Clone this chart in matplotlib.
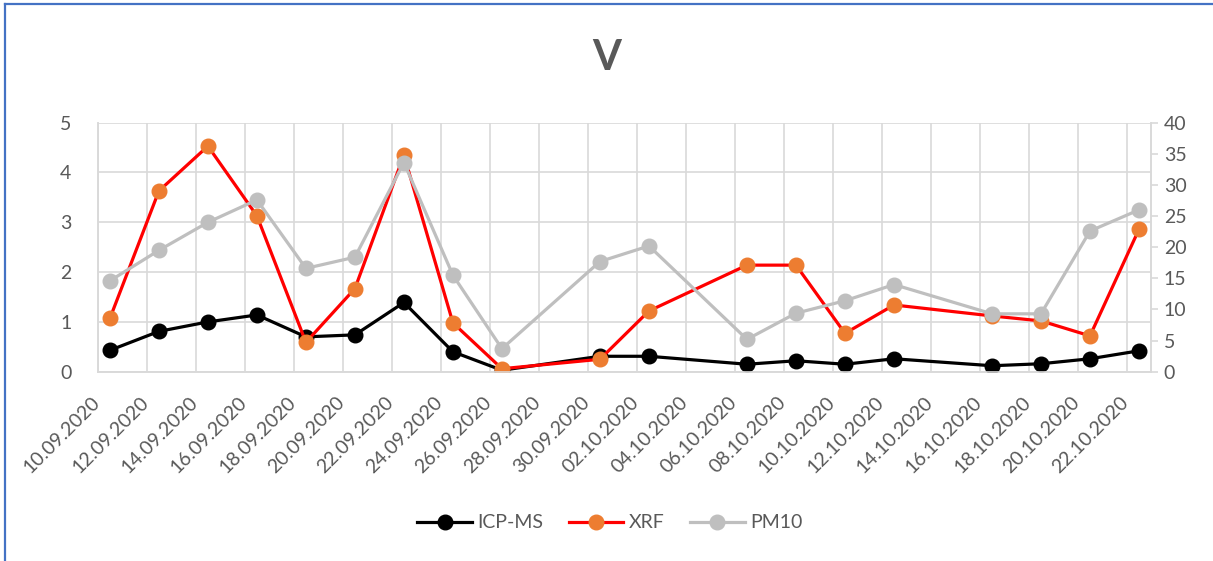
import numpy as np
import pandas as pd
import matplotlib
matplotlib.use('Agg')
import matplotlib.pyplot as plt
import matplotlib.dates as mdates
import matplotlib.transforms as mtransforms
from matplotlib.lines import Line2D

plt.rcParams['font.family'] = ['Lato', 'DejaVu Sans']

# sampling dates (dd.mm.yyyy)
dates = ['10.09.2020', '12.09.2020', '14.09.2020', '16.09.2020', '18.09.2020',
         '20.09.2020', '22.09.2020', '24.09.2020', '26.09.2020', '30.09.2020',
         '02.10.2020', '06.10.2020', '08.10.2020', '10.10.2020', '12.10.2020',
         '16.10.2020', '18.10.2020', '20.10.2020', '22.10.2020']

icp_ms = [0.43, 0.81, 1.00, 1.14, 0.70, 0.74, 1.39, 0.40, 0.03, 0.31,
          0.31, 0.15, 0.22, 0.15, 0.26, 0.12, 0.16, 0.26, 0.42]
xrf = [1.07, 3.63, 4.53, 3.13, 0.59, 1.67, 4.35, 0.98, 0.06, 0.25,
       1.22, 2.14, 2.14, 0.77, 1.34, 1.12, 1.02, 0.72, 2.86]
pm10 = [14.6, 19.5, 24.0, 27.6, 16.6, 18.4, 33.6, 15.5, 3.7, 17.7,
        20.2, 5.2, 9.4, 11.4, 14.0, 9.3, 9.3, 22.6, 26.0]

TXT = '#595959'
GRID = '#D9D9D9'

x = mdates.date2num(pd.to_datetime(dates, format='%d.%m.%Y'))
start, end = x[0], x[-1]

fig = plt.figure(figsize=(12.13, 5.61), dpi=100)
ax = fig.add_axes([0.0805, 0.3374, 0.9491 - 0.0805, 0.7813 - 0.3374])
ax2 = ax.twinx()

ax.plot(x, icp_ms, color='black', lw=2.3, marker='o', ms=10.5, zorder=3)
ax.plot(x, xrf, color='#FF0000', lw=2.3, marker='o', ms=10.5,
        markerfacecolor='#ED7D31', markeredgecolor='#ED7D31', zorder=4)
ax2.plot(x, pm10, color='#BFBFBF', lw=2.3, marker='o', ms=10.5, zorder=3)

ax.set_xlim(start - 0.5, end + 0.5)
ax.set_ylim(0, 5)
ax2.set_ylim(0, 40)
ax.set_yticks(np.arange(0, 6, 1))
ax2.set_yticks(np.arange(0, 45, 5))

ticks = np.arange(start, end + 1, 2)
ax.set_xticks(ticks)
ax.set_xticklabels([mdates.num2date(t).strftime('%d.%m.%Y') for t in ticks])
ax.set_xticks(np.arange(start - 0.5, end + 1, 2), minor=True)
ax.grid(False)
ax.grid(True, which='minor', axis='x', color=GRID, lw=1.2)
ax.grid(True, which='major', axis='y', color=GRID, lw=1.2)
ax.set_axisbelow(True)

ax.tick_params(axis='x', which='both', length=0, pad=20, labelsize=14, labelcolor=TXT)
ax.tick_params(axis='y', length=0, pad=19, labelsize=14, labelcolor=TXT)
ax2.tick_params(axis='y', length=5, width=1.2, color=GRID, pad=4,
                labelsize=14, labelcolor=TXT)

shift = mtransforms.ScaledTranslation(-0.13, 0, fig.dpi_scale_trans)
for lab in ax.get_xticklabels():
    lab.set_rotation(45)
    lab.set_ha('right')
    lab.set_va('center')
    lab.set_rotation_mode('anchor')
    lab.set_transform(lab.get_transform() + shift)

for a in (ax, ax2):
    a.spines['top'].set_visible(False)
    for side in ('left', 'bottom', 'right'):
        a.spines[side].set_color(GRID)
        a.spines[side].set_linewidth(1.2)

fig.text(0.5, 0.897, 'V', ha='center', va='center', fontsize=30,
         fontweight='bold', color=TXT)

handles = [
    Line2D([], [], color='black', lw=2.3, marker='o', ms=10.5),
    Line2D([], [], color='#FF0000', lw=2.3, marker='o', ms=10.5,
           markerfacecolor='#ED7D31', markeredgecolor='#ED7D31'),
    Line2D([], [], color='#BFBFBF', lw=2.3, marker='o', ms=10.5),
]
leg = fig.legend(handles, ['ICP-MS', 'XRF', 'PM10'], loc='center',
                 bbox_to_anchor=(0.503, 0.068), ncol=3, frameon=False,
                 fontsize=14, handlelength=2.8, handletextpad=0.3,
                 columnspacing=1.3)
for t in leg.get_texts():
    t.set_color(TXT)

# blue chart-area frame (only top and left edges are visible in the crop)
fig.add_artist(Line2D([0.004, 1.0], [0.9925, 0.9925], color='#4472C4', lw=1.6,
                      transform=fig.transFigure))
fig.add_artist(Line2D([0.0045, 0.0045], [0.0, 0.9925], color='#4472C4', lw=1.6,
                      transform=fig.transFigure))

fig.savefig('out.png', dpi=100, facecolor='white')
